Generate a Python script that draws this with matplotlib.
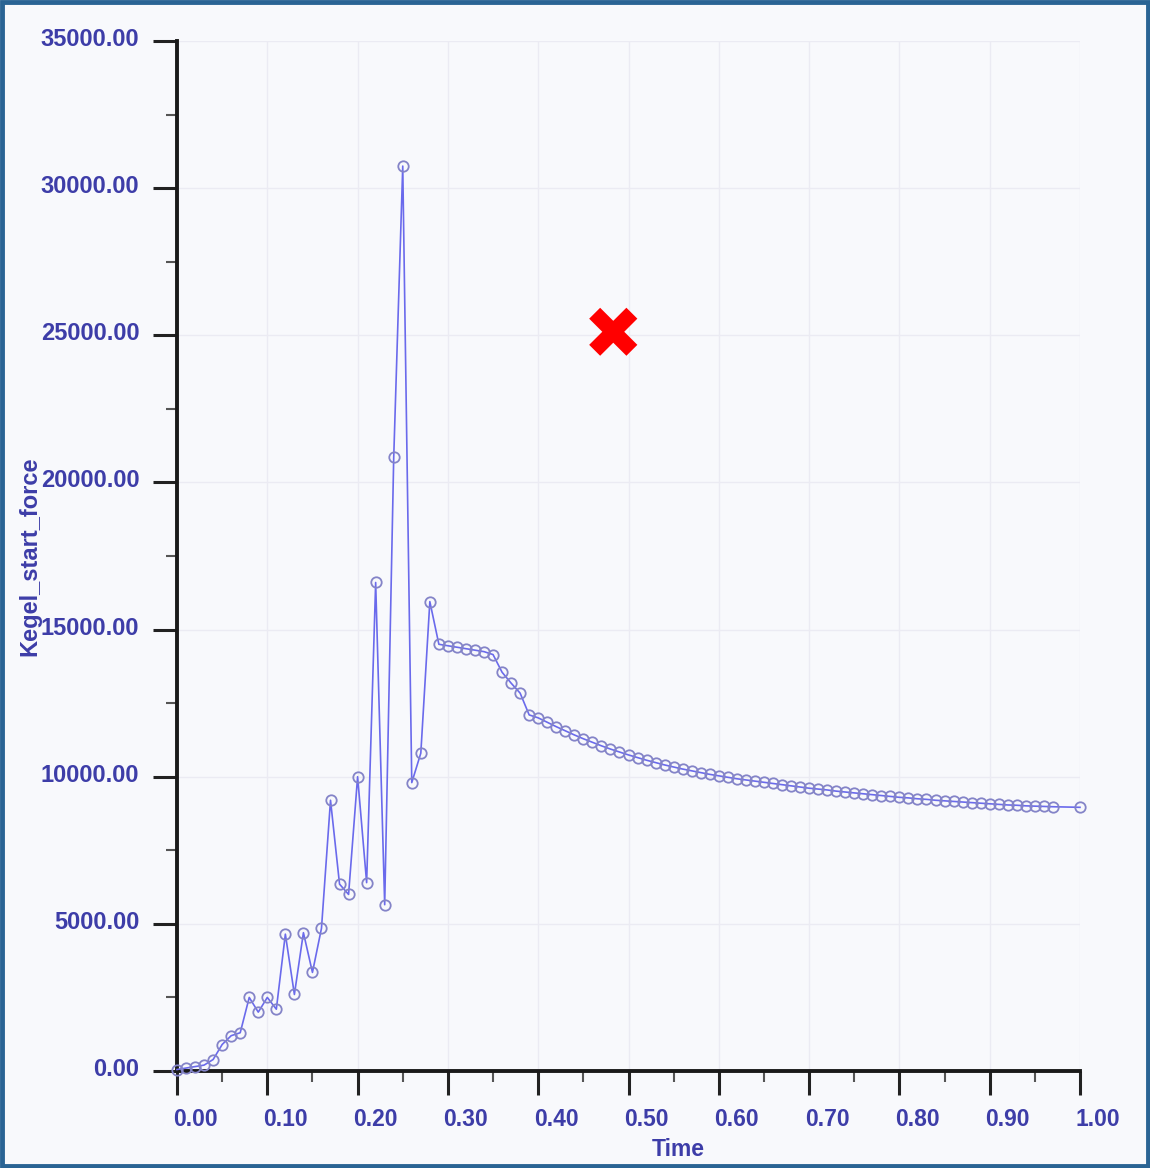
import matplotlib
matplotlib.use("Agg")
import matplotlib.pyplot as plt
import matplotlib.transforms as mtransforms
from matplotlib.patches import Rectangle
from matplotlib.ticker import MultipleLocator, FormatStrFormatter

# ---- data (Time vs Kegel_start_force) ----
time = [0.00, 0.01, 0.02, 0.03, 0.04, 0.05, 0.06, 0.07, 0.08, 0.09,
        0.10, 0.11, 0.12, 0.13, 0.14, 0.15, 0.16, 0.17, 0.18, 0.19,
        0.20, 0.21, 0.22, 0.23, 0.24, 0.25, 0.26, 0.27, 0.28, 0.29,
        0.30, 0.31, 0.32, 0.33, 0.34, 0.35, 0.36, 0.37, 0.38, 0.39,
        0.40, 0.41, 0.42, 0.43, 0.44, 0.45, 0.46, 0.47, 0.48, 0.49,
        0.50, 0.51, 0.52, 0.53, 0.54, 0.55, 0.56, 0.57, 0.58, 0.59,
        0.60, 0.61, 0.62, 0.63, 0.64, 0.65, 0.66, 0.67, 0.68, 0.69,
        0.70, 0.71, 0.72, 0.73, 0.74, 0.75, 0.76, 0.77, 0.78, 0.79,
        0.80, 0.81, 0.82, 0.83, 0.84, 0.85, 0.86, 0.87, 0.88, 0.89,
        0.90, 0.91, 0.92, 0.93, 0.94, 0.95, 0.96, 0.97, 1.00]
force = [50, 100, 150, 200, 390, 900, 1200, 1300, 2500, 2000,
         2500, 2100, 4650, 2600, 4700, 3350, 4850, 9200, 6350, 6000,
         10000, 6400, 16600, 5650, 20850, 30750, 9800, 10800, 15950, 14500,
         14450, 14400, 14350, 14300, 14250, 14150, 13550, 13180, 12840, 12100,
         12000, 11850, 11700, 11560, 11420, 11290, 11170, 11050, 10940, 10840,
         10740, 10650, 10560, 10480, 10400, 10330, 10260, 10200, 10140, 10080,
         10030, 9980, 9930, 9890, 9850, 9810, 9770, 9730, 9690, 9650,
         9610, 9580, 9550, 9510, 9480, 9450, 9420, 9390, 9360, 9330,
         9300, 9280, 9250, 9230, 9200, 9180, 9160, 9140, 9120, 9100,
         9080, 9060, 9040, 9030, 9010, 9000, 8990, 8980, 8960]

BG = "#f8f9fc"
TXT = "#3d3da8"
LINE = "#6a6aec"

fig = plt.figure(figsize=(11.5, 11.68), dpi=100, facecolor=BG)
ax = fig.add_axes([177/1150, 97/1168, 903/1150, 1030/1168], facecolor=BG)

ax.plot(time, force, "-o", color=LINE, lw=1.2, ms=7.5, mfc="none",
        mec="#8484c8", mew=1.3, clip_on=False, zorder=3)

ax.set_xlim(0, 1.0); ax.set_ylim(0, 35000)
ax.xaxis.set_major_locator(MultipleLocator(0.1))
ax.xaxis.set_minor_locator(MultipleLocator(0.05))
ax.yaxis.set_major_locator(MultipleLocator(5000))
ax.yaxis.set_minor_locator(MultipleLocator(2500))
ax.xaxis.set_major_formatter(FormatStrFormatter("%.2f"))
ax.yaxis.set_major_formatter(FormatStrFormatter("%.2f"))

for s in ["top", "right"]:
    ax.spines[s].set_visible(False)
for s in ["left", "bottom"]:
    ax.spines[s].set_linewidth(2.8); ax.spines[s].set_color("#1a1a1a")

ax.tick_params(which="major", direction="out", length=17, width=2.2, color="#222222",
               labelcolor=TXT)
ax.tick_params(which="minor", direction="out", length=8, width=1.5, color="#555555")
ax.tick_params(axis="x", which="major", pad=10, labelsize=16.5)
ax.tick_params(axis="y", which="major", pad=10, labelsize=17)
for lab in ax.get_xticklabels() + ax.get_yticklabels():
    lab.set_fontfamily("Liberation Sans"); lab.set_fontweight("bold")
shift = mtransforms.ScaledTranslation(18/100, 0, fig.dpi_scale_trans)
for lab in ax.get_xticklabels():
    lab.set_transform(lab.get_transform() + shift)
lift = mtransforms.ScaledTranslation(0, 4/100, fig.dpi_scale_trans)
for lab in ax.get_yticklabels():
    lab.set_transform(lab.get_transform() + lift)

ax.grid(which="major", color="#ebebf3", lw=1.0)
ax.set_axisbelow(True)

ax.set_xlabel("Time", fontsize=16.5, fontweight="bold", color=TXT, family="Liberation Sans")
ax.xaxis.set_label_coords(0.555, -0.065)
ax.set_ylabel("Kegel_start_force", fontsize=17, fontweight="bold", color=TXT, family="Liberation Sans")
ax.yaxis.set_label_coords(-0.150, 0.5)

# red cross overlay and blue frame
fig.text(613/1150, 1-339/1168, "\u2716", color="#ff0000", fontsize=52,
         ha="center", va="center", family="DejaVu Sans")
fig.patches.append(Rectangle((0.002, 0.002), 0.996, 0.996, transform=fig.transFigure,
                             fill=False, edgecolor="#2a6494", lw=3.5))

plt.savefig("out.png", dpi=100, facecolor=BG)
